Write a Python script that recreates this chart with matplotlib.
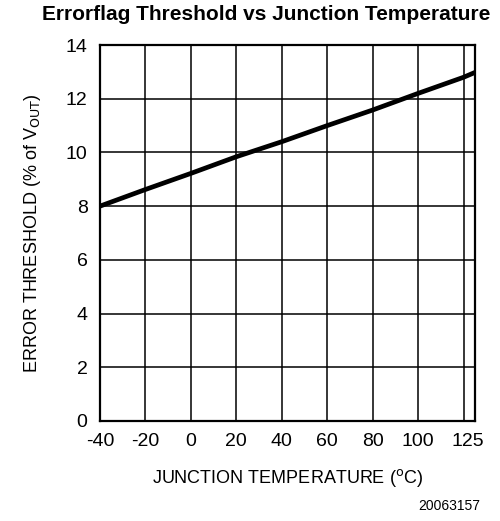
import matplotlib
matplotlib.use("Agg")
import matplotlib.pyplot as plt

plt.rcParams['font.family'] = ['Liberation Sans', 'DejaVu Sans']

temp = [-40, -20, 0, 20, 40, 60, 80, 100, 120, 125]
threshold = [8.0, 8.62, 9.22, 9.84, 10.4, 11.0, 11.58, 12.2, 12.8, 12.98]

x_grid = [-40, -20, 0, 20, 40, 60, 80, 100, 120]
x_tick_pos = [-40, -20, 0, 20, 40, 60, 80, 100, 122]
x_tick_labels = ['-40', '-20', '0', '20', '40', '60', '80', '100', '125']
y_ticks = [0, 2, 4, 6, 8, 10, 12, 14]

fig = plt.figure(figsize=(5.0, 5.21), dpi=100)
ax = fig.add_axes([0.2, 0.192, 0.75, 0.7216])

for xv in x_grid:
    ax.axvline(xv, color='black', lw=1.1, zorder=1)
for yv in y_ticks:
    ax.axhline(yv, color='black', lw=1.1, zorder=1)

ax.plot(temp, threshold, color='black', lw=3.4, zorder=3, solid_capstyle='butt')

ax.set_xlim(-40, 125)
ax.set_ylim(0, 14)
ax.set_xticks(x_tick_pos)
ax.set_xticklabels(x_tick_labels)
ax.set_yticks(y_ticks)
ax.tick_params(length=0, labelsize=14, pad=9)
for s in ax.spines.values():
    s.set_linewidth(1.6)

ax.set_xlabel('JUNCTION TEMPERATURE ($^{\\rm o}$C)', fontsize=13, labelpad=12)
ax.set_ylabel('ERROR THRESHOLD (% of V$_{\\rm OUT}$)', fontsize=13, labelpad=16)
fig.text(0.532, 0.99, 'Errorflag Threshold vs Junction Temperature',
         ha='center', va='top', fontsize=15, fontweight='bold')
fig.text(0.96, 0.015, '20063157', ha='right', va='bottom', fontsize=10)

fig.savefig('out.png', dpi=100)
